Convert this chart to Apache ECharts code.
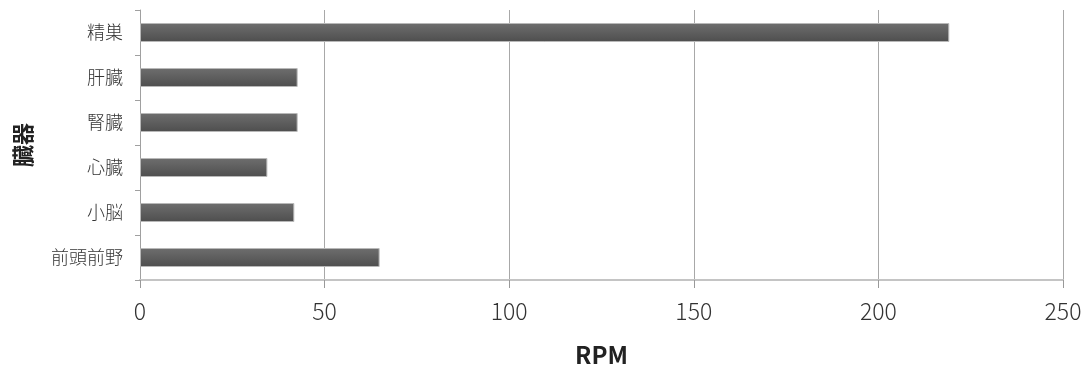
<!DOCTYPE html>
<html>
<head>
<meta charset="utf-8">
<script src="https://cdn.jsdelivr.net/npm/echarts@6/dist/echarts.min.js"></script>
<style>
html,body{margin:0;padding:0;background:#fff;}
#c{width:1091px;height:372px;}
</style>
</head>
<body>
<div id="c"></div>
<script>
const categories = ['精巣', '肝臓', '腎臓', '心臓', '小脳', '前頭前野'];
const rpmValues = [219.2, 42.7, 42.7, 34.5, 41.8, 64.9];
const xTicks = { min: 0, max: 250, interval: 50 };
const xTitle = 'RPM';
const yTitle = '臓器';

const chart = echarts.init(document.getElementById('c'), null, { renderer: 'canvas' });
const font = '"Noto Sans CJK JP", "Noto Sans", sans-serif';
chart.setOption({
  animation: false,
  backgroundColor: '#ffffff',
  grid: { left: 140, right: 28, top: 10, bottom: 92, containLabel: false },
  xAxis: {
    type: 'value',
    min: xTicks.min, max: xTicks.max, interval: xTicks.interval,
    name: xTitle, nameLocation: 'middle', nameGap: 63,
    nameTextStyle: { fontFamily: font, fontSize: 24, fontWeight: 'bold', color: '#222' },
    axisLine: { show: true, lineStyle: { color: '#c4c4c4', width: 2 } },
    axisTick: { show: true, length: 8, lineStyle: { color: '#999' } },
    axisLabel: { fontFamily: font, fontSize: 23, fontWeight: 300, color: '#333', margin: 20 },
    splitLine: { show: true, lineStyle: { color: '#a8a8a8', width: 1 } }
  },
  yAxis: {
    type: 'category',
    data: categories,
    inverse: true,
    name: yTitle, nameLocation: 'middle', nameGap: 106, nameRotate: 90,
    nameTextStyle: { fontFamily: font, fontSize: 22, fontWeight: 'bold', color: '#222' },
    axisLine: { show: true, lineStyle: { color: '#a0a0a0', width: 1 } },
    axisTick: { show: true, length: 5, alignWithLabel: false, lineStyle: { color: '#a0a0a0' } },
    axisLabel: { fontFamily: font, fontSize: 18, fontWeight: 300, color: '#333', margin: 17 },
    splitLine: { show: false }
  },
  series: [{
    type: 'bar',
    data: rpmValues,
    barWidth: 19,
    itemStyle: {
      color: new echarts.graphic.LinearGradient(0, 0, 0, 1, [
        { offset: 0, color: '#6e6e6e' },
        { offset: 0.5, color: '#5e5e5e' },
        { offset: 1, color: '#4e4e4e' }
      ]),
      borderColor: '#b8b8b8',
      borderWidth: 1
    }
  }]
});
</script>
</body>
</html>
